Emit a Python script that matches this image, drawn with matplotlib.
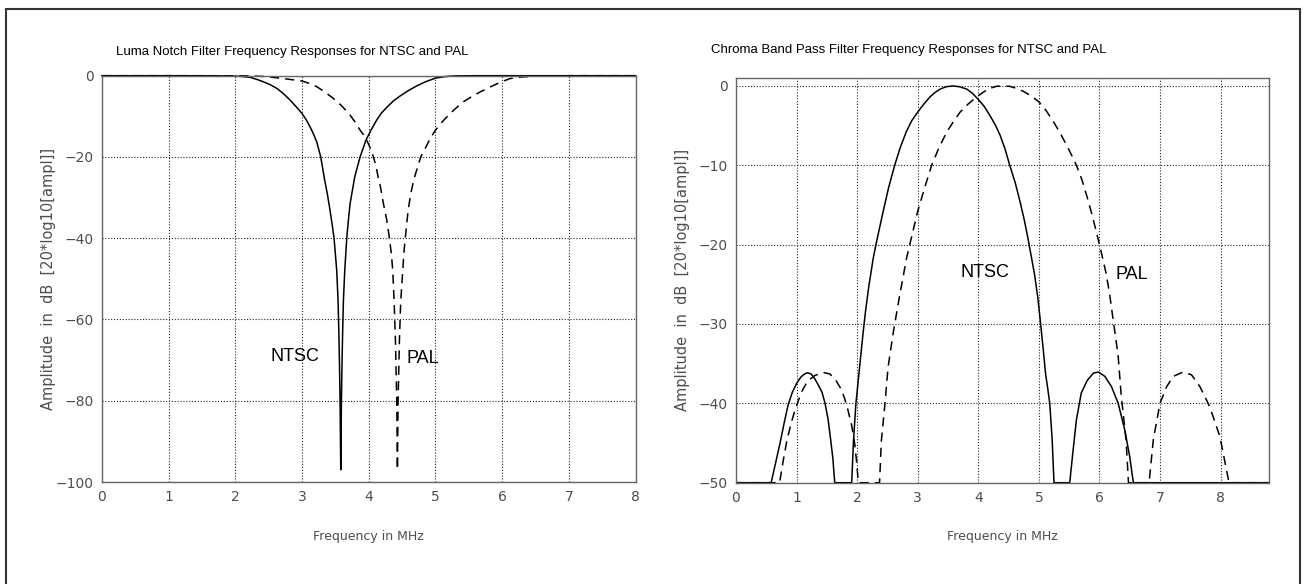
import matplotlib
matplotlib.use('Agg')
import matplotlib.pyplot as plt
from matplotlib.patches import Rectangle

# left panel: luma notch filters (freq in MHz, amplitude in dB)
luma_ntsc_f = [0.0, 1.0, 1.7, 2.0, 2.1, 2.22, 2.32, 2.42, 2.52, 2.62, 2.72, 2.82, 2.91, 3.0,
               3.06, 3.12, 3.17, 3.22, 3.28, 3.34, 3.38, 3.42, 3.45, 3.48, 3.50, 3.52, 3.54,
               3.55, 3.56, 3.57, 3.58, 3.59, 3.60, 3.61, 3.62, 3.64, 3.67, 3.695, 3.72, 3.79,
               3.87, 3.96, 4.04, 4.12, 4.19, 4.27, 4.37, 4.47, 4.6, 4.72, 4.85, 5.0, 5.15,
               5.3, 5.6, 8.0]
luma_ntsc_db = [0, 0, -0.02, -0.1, -0.2, -0.4, -0.9, -1.5, -2.2, -3.1, -4.4, -6.0, -7.6, -9.3,
                -10.8, -12.6, -14.3, -16.3, -20, -25.8, -29.2, -33.2, -36.5, -40, -44, -48, -55.4,
                -62, -70, -80, -97, -80, -70, -62, -55.4, -48, -40, -35.5, -31.5, -24.9,
                -20, -15.8, -13.2, -10.9, -9.2, -7.8, -6.2, -5.0, -3.6, -2.5, -1.5, -0.6, -0.2,
                -0.05, 0, 0]

luma_pal_f = [0.0, 1.5, 2.2, 2.45, 2.72, 2.86, 3.0, 3.11, 3.22, 3.34, 3.47, 3.60, 3.72, 3.80,
              3.87, 3.92, 3.97, 4.04, 4.07, 4.11, 4.14, 4.17, 4.22, 4.27, 4.31, 4.34, 4.36,
              4.38, 4.40, 4.42, 4.43, 4.44, 4.46, 4.48, 4.51, 4.53, 4.56, 4.59, 4.63, 4.68,
              4.78, 4.85, 4.92, 5.0, 5.11, 5.22, 5.32, 5.42, 5.55, 5.67, 5.83, 5.99, 6.12,
              6.3, 6.55, 7.0, 8.0]
luma_pal_db = [0, 0, -0.05, -0.2, -0.7, -1.0, -1.3, -1.9, -2.7, -4.0, -5.6, -7.5, -9.7, -11.5,
               -13.4, -14.5, -15.9, -18.4, -20, -22.3, -24.9, -26.9, -31.5, -35.5, -40, -44, -48,
               -55.4, -65, -80, -97, -80, -65, -55.4, -48, -43, -38, -33.2, -29, -25.3,
               -20, -17.8, -15.5, -13.4, -11.2, -9.3, -7.8, -6.4, -5.1, -4.0, -2.7, -1.5, -0.7,
               -0.3, -0.1, 0, 0]

# right panel: chroma band pass filters (clipped at -50 dB)
chroma_ntsc_f = [0.0, 0.58, 0.66, 0.73, 0.80, 0.86, 0.93, 1.0, 1.07, 1.13, 1.18, 1.24, 1.30,
                 1.36, 1.42, 1.47, 1.52, 1.56, 1.60, 1.63,
                 1.91, 1.94, 1.98, 2.02, 2.06, 2.1, 2.14, 2.19, 2.266, 2.31, 2.43, 2.52, 2.62,
                 2.71, 2.81, 2.9, 3.0, 3.1, 3.2, 3.29, 3.37, 3.47, 3.58, 3.69, 3.81, 3.9, 4.0,
                 4.1, 4.19, 4.28, 4.36, 4.44, 4.52, 4.61, 4.69, 4.76, 4.82, 4.88, 4.93, 4.98,
                 5.02, 5.07, 5.11, 5.15, 5.18, 5.22, 5.25,
                 5.51, 5.56, 5.62, 5.70, 5.80, 5.90, 5.98, 6.09, 6.20, 6.31, 6.42, 6.50, 6.56,
                 8.8]
chroma_ntsc_db = [-50, -50, -47.3, -44.9, -42.3, -40.2, -38.6, -37.5, -36.7, -36.3, -36.15, -36.3, -36.9,
                  -37.7, -38.6, -40, -42, -44.4, -47, -50,
                  -50, -44.7, -40, -37, -34, -31, -28.3, -25.4, -21.7, -20, -15.8, -12.8, -10,
                  -7.8, -5.8, -4.4, -3.3, -2.3, -1.4, -0.8, -0.4, -0.1, 0, -0.1, -0.4, -0.9, -1.7,
                  -2.6, -3.7, -4.9, -6.2, -7.9, -10, -12.2, -14.6, -16.9, -19.2, -21.7, -23.8, -26.5,
                  -29.3, -33, -36.2, -38.3, -40, -44.6, -50,
                  -50, -46.3, -42.1, -38.7, -37.1, -36.2, -36.05, -36.6, -37.9, -40, -43.4, -46.7, -50,
                  -50]

chroma_pal_f = [0.0, 0.72, 0.78, 0.84, 0.91, 0.98, 1.08, 1.18, 1.3, 1.44, 1.55, 1.64, 1.72,
                1.79, 1.85, 1.91, 1.96, 1.99, 2.02,
                2.37, 2.40, 2.46, 2.51, 2.6, 2.70, 2.816, 2.90, 3.0, 3.12, 3.23, 3.35, 3.48,
                3.59, 3.70, 3.83, 3.97, 4.08, 4.19, 4.30, 4.41, 4.52, 4.63, 4.75, 4.88, 5.0,
                5.12, 5.24, 5.35, 5.46, 5.54, 5.62, 5.71, 5.79, 5.87, 5.95, 6.02, 6.11, 6.17,
                6.22, 6.27, 6.31, 6.36, 6.44, 6.48,
                6.82, 6.89, 7.0, 7.11, 7.22, 7.38, 7.52, 7.66, 7.82, 7.99, 8.14, 8.8]
chroma_pal_db = [-50, -50, -47.2, -44.7, -42.5, -40.7, -38.6, -37.2, -36.5, -36.1, -36.3, -37, -38,
                 -39.3, -40.9, -42.8, -45.1, -47.3, -50,
                 -50, -44.7, -40, -35.5, -30.9, -26.5, -21.7, -19, -15.8, -12.7, -10, -7.8, -5.8,
                 -4.5, -3.3, -2.3, -1.4, -0.8, -0.3, -0.05, 0, -0.05, -0.3, -0.7, -1.3, -2.0,
                 -3.1, -4.5, -5.9, -7.5, -8.7, -10, -11.8, -13.8, -16, -18.4, -20.6, -23.6, -26.3,
                 -29.1, -31.8, -34.1, -39, -44.6, -50,
                 -50, -44.6, -40, -37.9, -36.6, -36.05, -36.4, -37.9, -40.4, -44.2, -50, -50]

x_ticks = [0, 1, 2, 3, 4, 5, 6, 7, 8]
luma_yticks = [0, -20, -40, -60, -80, -100]
chroma_yticks = [0, -10, -20, -30, -40, -50]

TICK_FONT = ['DejaVu Sans']
TEXT_FONT = ['Liberation Sans', 'DejaVu Sans']

W, H = 1305, 584
fig = plt.figure(figsize=(W / 100, H / 100), dpi=100)

# outer frame (bottom edge falls off the picture)
fig.patches.append(Rectangle((6 / W, -0.1), 1294 / W, 1.1 - 9 / H, transform=fig.transFigure,
                             fill=False, edgecolor='0.2', lw=1.5))


def px_axes(x0, y0, x1, y1):
    return fig.add_axes([x0 / W, 1 - y1 / H, (x1 - x0) / W, (y1 - y0) / H])


def style(ax, yticks):
    ax.set_xticks(x_ticks)
    ax.set_yticks(yticks)
    ax.grid(True, color='0.15', lw=0.8, linestyle=(0, (1, 1.6)))
    ax.tick_params(length=0, labelsize=10, labelcolor='0.3', pad=6)
    for lab in ax.get_xticklabels() + ax.get_yticklabels():
        lab.set_family(TICK_FONT)
    for s in ax.spines.values():
        s.set_color('0.4')
        s.set_linewidth(1.0)
    ax.set_xlabel('Frequency in MHz', family=TICK_FONT, fontsize=9, color='0.3')
    ax.xaxis.set_label_coords(0.5, -0.118)
    ax.set_ylabel('Amplitude  in  dB  [20*log10[ampl]]', fontsize=10.5, color='0.3')
    ax.yaxis.set_label_coords(-0.087, 0.5)


ax1 = px_axes(102, 75.7, 635.5, 482)
ax1.plot(luma_ntsc_f, luma_ntsc_db, color='k', lw=1.1, clip_on=False)
ax1.plot(luma_pal_f, luma_pal_db, color='k', lw=1.1, linestyle=(0, (6, 4)), clip_on=False)
ax1.set_xlim(0, 8)
ax1.set_ylim(-100, 0)
style(ax1, luma_yticks)
ax1.text(2.53, -69.2, 'NTSC', fontsize=13, family=TEXT_FONT, va='center')
ax1.text(4.57, -69.7, 'PAL', fontsize=13, family=TEXT_FONT, va='center')

ax2 = px_axes(736, 78, 1269, 482.7)
ax2.plot(chroma_ntsc_f, chroma_ntsc_db, color='k', lw=1.1)
ax2.plot(chroma_pal_f, chroma_pal_db, color='k', lw=1.1, linestyle=(0, (6, 4)))
ax2.set_xlim(0, 8.8)
ax2.set_ylim(-50, 1)
style(ax2, chroma_yticks)
ax2.text(3.70, -23.5, 'NTSC', fontsize=13, family=TEXT_FONT, va='center')
ax2.text(6.27, -23.8, 'PAL', fontsize=13, family=TEXT_FONT, va='center')

fig.text(116 / W, 1 - 51.7 / H, 'Luma Notch Filter Frequency Responses for NTSC and PAL',
         fontsize=9.5, family=TEXT_FONT, va='center')
fig.text(711 / W, 1 - 50 / H, 'Chroma Band Pass Filter Frequency Responses for NTSC and PAL',
         fontsize=9.5, family=TEXT_FONT, va='center')

fig.savefig('out.png', dpi=100)
